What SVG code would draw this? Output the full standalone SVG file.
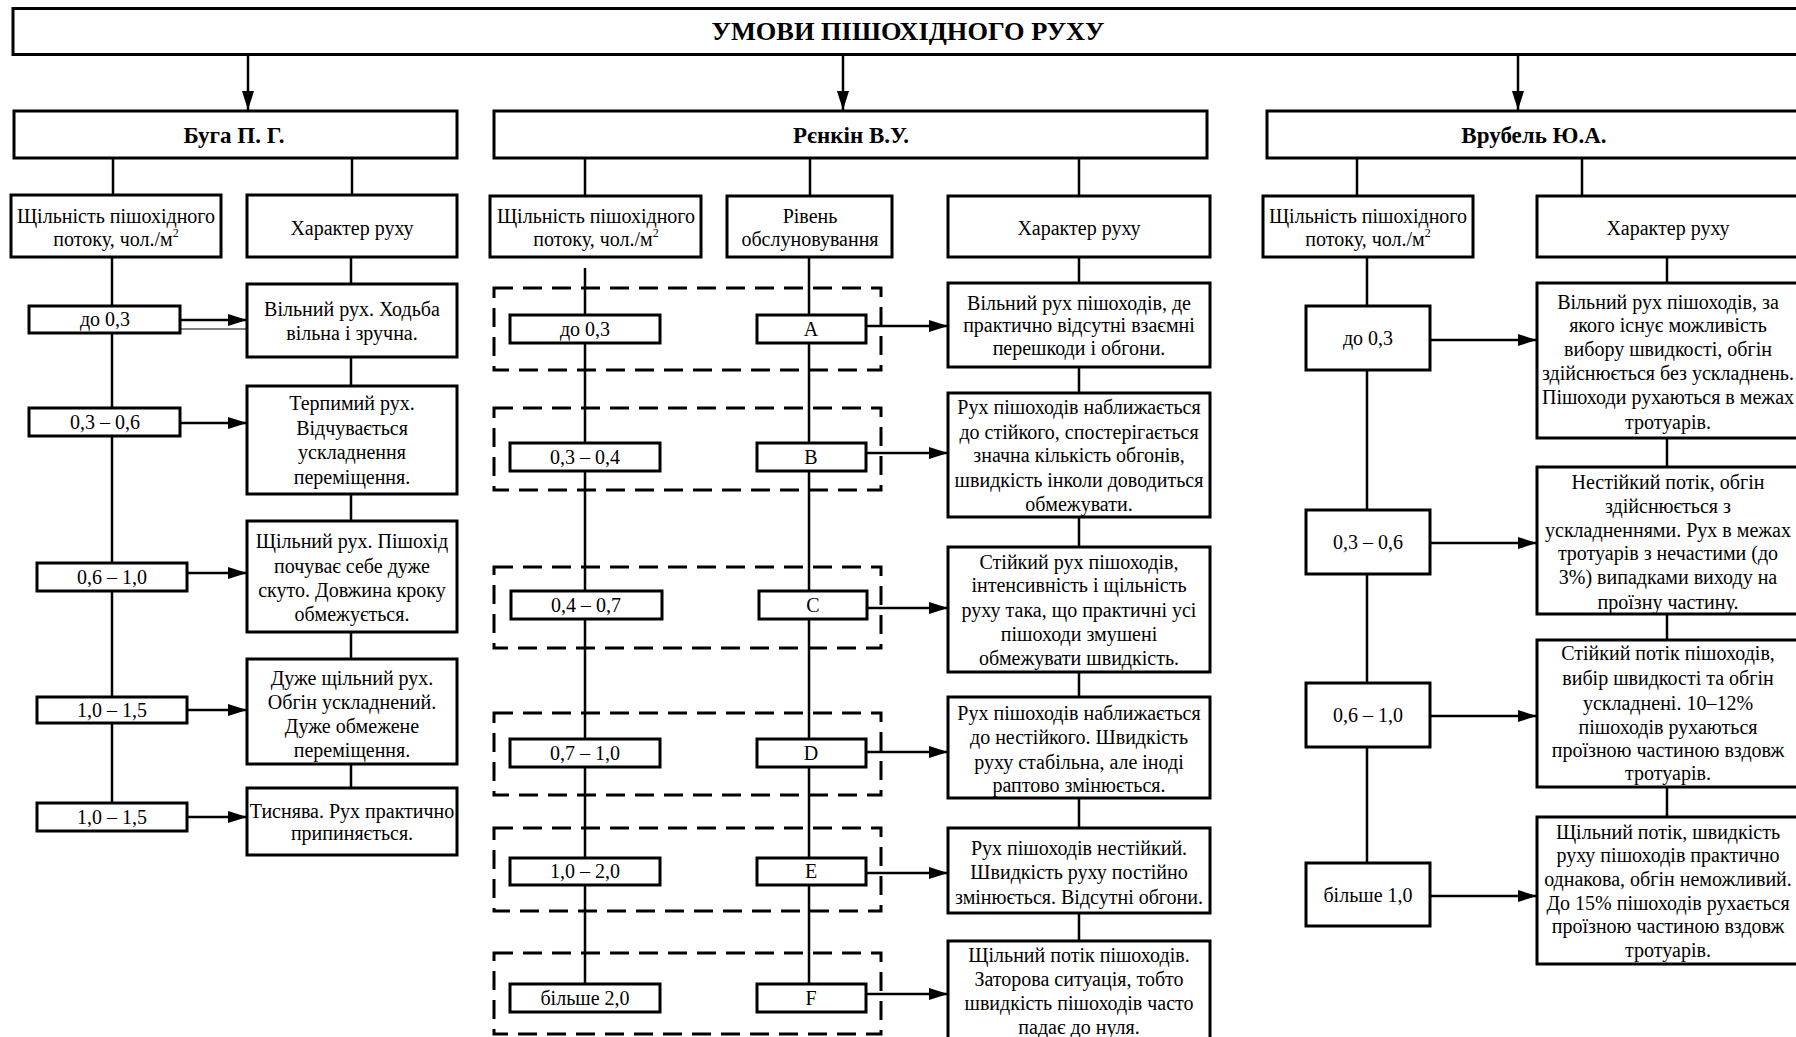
<svg xmlns="http://www.w3.org/2000/svg" width="1796" height="1037" viewBox="0 0 1796 1037">
<style>
.box{fill:#fff;stroke:#000;stroke-width:3}
.dash{fill:none;stroke:#000;stroke-width:3;stroke-dasharray:19 10}
.ln{fill:none;stroke:#000;stroke-width:2.5}
.thin{fill:none;stroke:#000;stroke-width:1.2}
.t{font-family:"Liberation Serif","Times New Roman",serif;font-size:20px;text-anchor:middle;fill:#000}
.b{font-weight:bold;font-size:23px}
.tt{font-weight:bold;font-size:25px}
.sup{font-size:12px}
</style>
<defs>
<marker id="ah" markerUnits="userSpaceOnUse" markerWidth="20" markerHeight="12" refX="19" refY="6" orient="auto"><path d="M0,0 L19,6 L0,12 z" fill="#000"/></marker>
</defs>
<rect width="1796" height="1037" fill="#fff"/>
<g id="connectors">
<line class="ln" x1="248" y1="54" x2="248" y2="110" marker-end="url(#ah)"/>
<line class="ln" x1="843" y1="54" x2="843" y2="110" marker-end="url(#ah)"/>
<line class="ln" x1="1518" y1="54" x2="1518" y2="110" marker-end="url(#ah)"/>
<line class="ln" x1="113" y1="158" x2="113" y2="195"/>
<line class="ln" x1="352" y1="158" x2="352" y2="195"/>
<line class="ln" x1="585" y1="158" x2="585" y2="196"/>
<line class="ln" x1="810" y1="158" x2="810" y2="196"/>
<line class="ln" x1="1079" y1="158" x2="1079" y2="196"/>
<line class="ln" x1="1357" y1="158" x2="1357" y2="196"/>
<line class="ln" x1="1582" y1="158" x2="1582" y2="196"/>
<line class="ln" x1="112" y1="257" x2="112" y2="803"/>
<line class="ln" x1="351" y1="257" x2="351" y2="788"/>
<line class="ln" x1="180" y1="320" x2="247" y2="320" marker-end="url(#ah)"/>
<line class="thin" x1="180" y1="329" x2="247" y2="329"/>
<line class="ln" x1="180" y1="423" x2="247" y2="423" marker-end="url(#ah)"/>
<line class="ln" x1="187" y1="573" x2="247" y2="573" marker-end="url(#ah)"/>
<line class="ln" x1="187" y1="710" x2="247" y2="710" marker-end="url(#ah)"/>
<line class="ln" x1="187" y1="817" x2="247" y2="817" marker-end="url(#ah)"/>
<line class="ln" x1="585" y1="268" x2="585" y2="984"/>
<line class="ln" x1="809" y1="257" x2="809" y2="984"/>
<line class="ln" x1="1079" y1="257" x2="1079" y2="941"/>
<line class="ln" x1="866" y1="326" x2="948" y2="326" marker-end="url(#ah)"/>
<line class="ln" x1="866" y1="453" x2="948" y2="453" marker-end="url(#ah)"/>
<line class="ln" x1="867" y1="608" x2="948" y2="608" marker-end="url(#ah)"/>
<line class="ln" x1="866" y1="752" x2="948" y2="752" marker-end="url(#ah)"/>
<line class="ln" x1="866" y1="873" x2="948" y2="873" marker-end="url(#ah)"/>
<line class="ln" x1="866" y1="994" x2="948" y2="994" marker-end="url(#ah)"/>
<line class="ln" x1="1367" y1="257" x2="1367" y2="863"/>
<line class="ln" x1="1667" y1="257" x2="1667" y2="817"/>
<line class="ln" x1="1430" y1="340" x2="1537" y2="340" marker-end="url(#ah)"/>
<line class="ln" x1="1430" y1="543" x2="1537" y2="543" marker-end="url(#ah)"/>
<line class="ln" x1="1430" y1="716" x2="1537" y2="716" marker-end="url(#ah)"/>
<line class="ln" x1="1430" y1="896" x2="1537" y2="896" marker-end="url(#ah)"/>
</g>
<g id="title"><rect class="box" x="13" y="8.5" width="1790" height="46"/><text class="t tt" x="908" y="40" textLength="393" lengthAdjust="spacingAndGlyphs">УМОВИ ПІШОХІДНОГО РУХУ</text></g>
<g id="buga"><rect class="box" x="14" y="111" width="443" height="47"/><text class="t b" x="234" y="142.5">Буга П. Г.</text></g>
<g id="renkin"><rect class="box" x="494" y="111" width="713" height="47"/><text class="t b" x="851" y="142.5">Рєнкін В.У.</text></g>
<g id="vrubel"><rect class="box" x="1267" y="111" width="540" height="47"/><text class="t b" x="1534" y="142.5">Врубель Ю.А.</text></g>

<g id="buga-density"><rect class="box" x="11" y="195" width="210" height="62"/><text class="t" x="116" y="223">Щільність пішохідного</text><text class="t" x="116" y="246">потоку, чол./м<tspan class="sup" dy="-9">2</tspan></text></g>
<g id="buga-char"><rect class="box" x="247" y="195" width="210" height="62"/><text class="t" x="352" y="235">Характер руху</text></g>
<g id="buga-d1"><rect class="box" x="29" y="306" width="151" height="27"/><text class="t" x="105" y="326">до 0,3</text></g>
<g id="buga-d2"><rect class="box" x="29" y="408" width="151" height="28"/><text class="t" x="105" y="429">0,3 – 0,6</text></g>
<g id="buga-d3"><rect class="box" x="37" y="563" width="150" height="28"/><text class="t" x="112" y="584">0,6 – 1,0</text></g>
<g id="buga-d4"><rect class="box" x="37" y="697" width="150" height="26"/><text class="t" x="112" y="717">1,0 – 1,5</text></g>
<g id="buga-d5"><rect class="box" x="37" y="803" width="150" height="28"/><text class="t" x="112" y="824">1,0 – 1,5</text></g>
<g id="buga-c1"><rect class="box" x="247" y="284" width="210" height="73"/><text class="t" x="352" y="316">Вільний рух. Ходьба</text><text class="t" x="352" y="340">вільна і зручна.</text></g>
<g id="buga-c2"><rect class="box" x="247" y="386" width="210" height="108"/><text class="t" x="352" y="410">Терпимий рух.</text><text class="t" x="352" y="435">Відчувається</text><text class="t" x="352" y="459">ускладнення</text><text class="t" x="352" y="484">переміщення.</text></g>
<g id="buga-c3"><rect class="box" x="247" y="521" width="210" height="111"/><text class="t" x="352" y="548">Щільний рух. Пішохід</text><text class="t" x="352" y="573">почуває себе дуже</text><text class="t" x="352" y="597">скуто. Довжина кроку</text><text class="t" x="352" y="621">обмежується.</text></g>
<g id="buga-c4"><rect class="box" x="247" y="659" width="210" height="105"/><text class="t" x="352" y="685">Дуже щільний рух.</text><text class="t" x="352" y="709">Обгін ускладнений.</text><text class="t" x="352" y="733">Дуже обмежене</text><text class="t" x="352" y="757">переміщення.</text></g>
<g id="buga-c5"><rect class="box" x="247" y="788" width="210" height="67"/><text class="t" x="352" y="818">Тиснява. Рух практично</text><text class="t" x="352" y="840">припиняється.</text></g>

<g id="renkin-density"><rect class="box" x="490" y="196" width="211" height="61"/><text class="t" x="596" y="223">Щільність пішохідного</text><text class="t" x="596" y="246">потоку, чол./м<tspan class="sup" dy="-9">2</tspan></text></g>
<g id="renkin-level"><rect class="box" x="727" y="196" width="165" height="61"/><text class="t" x="810" y="223">Рівень</text><text class="t" x="810" y="246">обслуновування</text></g>
<g id="renkin-char"><rect class="box" x="948" y="196" width="262" height="61"/><text class="t" x="1079" y="235">Характер руху</text></g>
<g id="renkin-groups">
<rect class="dash" x="494" y="288" width="387" height="82"/>
<rect class="dash" x="494" y="408" width="387" height="82"/>
<rect class="dash" x="494" y="567" width="387" height="81"/>
<rect class="dash" x="494" y="713" width="387" height="82"/>
<rect class="dash" x="494" y="828" width="387" height="83"/>
<rect class="dash" x="494" y="953" width="387" height="81"/>
</g>
<g id="renkin-d1"><rect class="box" x="510" y="315" width="150" height="28"/><text class="t" x="585" y="336">до 0,3</text></g>
<g id="renkin-d2"><rect class="box" x="510" y="443" width="150" height="28"/><text class="t" x="585" y="464">0,3 – 0,4</text></g>
<g id="renkin-d3"><rect class="box" x="511" y="591" width="151" height="28"/><text class="t" x="586" y="612">0,4 – 0,7</text></g>
<g id="renkin-d4"><rect class="box" x="510" y="739" width="150" height="28"/><text class="t" x="585" y="760">0,7 – 1,0</text></g>
<g id="renkin-d5"><rect class="box" x="510" y="858" width="150" height="27"/><text class="t" x="585" y="878">1,0 – 2,0</text></g>
<g id="renkin-d6"><rect class="box" x="510" y="984" width="150" height="28"/><text class="t" x="585" y="1005">більше 2,0</text></g>
<g id="renkin-lA"><rect class="box" x="757" y="315" width="109" height="28"/><text class="t" x="811" y="336">A</text></g>
<g id="renkin-lB"><rect class="box" x="757" y="443" width="109" height="28"/><text class="t" x="811" y="464">B</text></g>
<g id="renkin-lC"><rect class="box" x="759" y="591" width="108" height="28"/><text class="t" x="813" y="612">C</text></g>
<g id="renkin-lD"><rect class="box" x="757" y="739" width="109" height="28"/><text class="t" x="811" y="760">D</text></g>
<g id="renkin-lE"><rect class="box" x="757" y="858" width="109" height="27"/><text class="t" x="811" y="878">E</text></g>
<g id="renkin-lF"><rect class="box" x="757" y="984" width="109" height="28"/><text class="t" x="811" y="1005">F</text></g>
<g id="renkin-cA"><rect class="box" x="948" y="283" width="262" height="84"/><text class="t" x="1079" y="310">Вільний рух пішоходів, де</text><text class="t" x="1079" y="332">практично відсутні взаємні</text><text class="t" x="1079" y="355">перешкоди і обгони.</text></g>
<g id="renkin-cB"><rect class="box" x="948" y="393" width="262" height="124"/><text class="t" x="1079" y="414">Рух пішоходів наближається</text><text class="t" x="1079" y="439">до стійкого, спостерігається</text><text class="t" x="1079" y="462">значна кількість обгонів,</text><text class="t" x="1079" y="487">швидкість інколи доводиться</text><text class="t" x="1079" y="511">обмежувати.</text></g>
<g id="renkin-cC"><rect class="box" x="948" y="547" width="262" height="125"/><text class="t" x="1079" y="569">Стійкий рух пішоходів,</text><text class="t" x="1079" y="592">інтенсивність і щільність</text><text class="t" x="1079" y="617">руху така, що практичні усі</text><text class="t" x="1079" y="641">пішоходи змушені</text><text class="t" x="1079" y="665">обмежувати швидкість.</text></g>
<g id="renkin-cD"><rect class="box" x="948" y="697" width="262" height="101"/><text class="t" x="1079" y="720">Рух пішоходів наближається</text><text class="t" x="1079" y="744">до нестійкого. Швидкість</text><text class="t" x="1079" y="769">руху стабільна, але іноді</text><text class="t" x="1079" y="792">раптово змінюється.</text></g>
<g id="renkin-cE"><rect class="box" x="948" y="828" width="262" height="85"/><text class="t" x="1079" y="855">Рух пішоходів нестійкий.</text><text class="t" x="1079" y="879">Швидкість руху постійно</text><text class="t" x="1079" y="904">змінюється. Відсутні обгони.</text></g>
<g id="renkin-cF"><rect class="box" x="948" y="941" width="262" height="104"/><text class="t" x="1079" y="962">Щільний потік пішоходів.</text><text class="t" x="1079" y="986">Заторова ситуація, тобто</text><text class="t" x="1079" y="1010">швидкість пішоходів часто</text><text class="t" x="1079" y="1034">падає до нуля.</text></g>

<g id="vrubel-density"><rect class="box" x="1263" y="196" width="210" height="61"/><text class="t" x="1368" y="223">Щільність пішохідного</text><text class="t" x="1368" y="246">потоку, чол./м<tspan class="sup" dy="-9">2</tspan></text></g>
<g id="vrubel-char"><rect class="box" x="1537" y="196" width="262" height="61"/><text class="t" x="1668" y="235">Характер руху</text></g>
<g id="vrubel-d1"><rect class="box" x="1306" y="306" width="124" height="64"/><text class="t" x="1368" y="345">до 0,3</text></g>
<g id="vrubel-d2"><rect class="box" x="1306" y="510" width="124" height="64"/><text class="t" x="1368" y="549">0,3 – 0,6</text></g>
<g id="vrubel-d3"><rect class="box" x="1306" y="683" width="124" height="64"/><text class="t" x="1368" y="722">0,6 – 1,0</text></g>
<g id="vrubel-d4"><rect class="box" x="1306" y="863" width="124" height="63"/><text class="t" x="1368" y="902">більше 1,0</text></g>
<g id="vrubel-c1"><rect class="box" x="1537" y="283" width="262" height="155"/><text class="t" x="1668" y="309">Вільний рух пішоходів, за</text><text class="t" x="1668" y="332">якого існує можливість</text><text class="t" x="1668" y="356">вибору швидкості, обгін</text><text class="t" x="1668" y="380">здійснюється без ускладнень.</text><text class="t" x="1668" y="404">Пішоходи рухаються в межах</text><text class="t" x="1668" y="429">тротуарів.</text></g>
<g id="vrubel-c2"><rect class="box" x="1537" y="467" width="262" height="147"/><text class="t" x="1668" y="489">Нестійкий потік, обгін</text><text class="t" x="1668" y="513">здійснюється з</text><text class="t" x="1668" y="537">ускладненнями. Рух в межах</text><text class="t" x="1668" y="560">тротуарів з нечастими (до</text><text class="t" x="1668" y="584">3%) випадками виходу на</text><text class="t" x="1668" y="609">проїзну частину.</text></g>
<g id="vrubel-c3"><rect class="box" x="1537" y="640" width="262" height="147"/><text class="t" x="1668" y="660">Стійкий потік пішоходів,</text><text class="t" x="1668" y="685">вибір швидкості та обгін</text><text class="t" x="1668" y="710">ускладнені.  10–12%</text><text class="t" x="1668" y="734">пішоходів рухаються</text><text class="t" x="1668" y="757">проїзною частиною вздовж</text><text class="t" x="1668" y="780">тротуарів.</text></g>
<g id="vrubel-c4"><rect class="box" x="1537" y="817" width="262" height="147"/><text class="t" x="1668" y="839">Щільний потік, швидкість</text><text class="t" x="1668" y="862">руху пішоходів практично</text><text class="t" x="1668" y="886">однакова, обгін неможливий.</text><text class="t" x="1668" y="910">До 15% пішоходів рухається</text><text class="t" x="1668" y="933">проїзною частиною вздовж</text><text class="t" x="1668" y="957">тротуарів.</text></g>
</svg>
